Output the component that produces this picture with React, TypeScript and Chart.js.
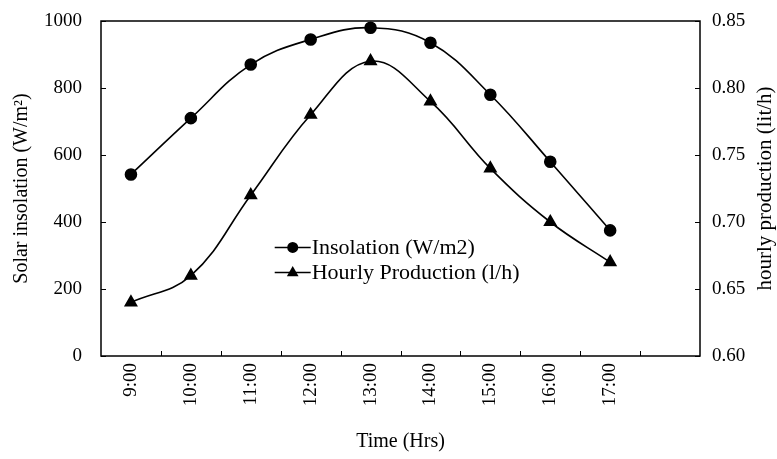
import React, { useEffect, useRef } from 'react';
import { Chart, registerables } from 'chart.js';

Chart.register(...registerables);

const hours = ['9:00', '10:00', '11:00', '12:00', '13:00', '14:00', '15:00', '16:00', '17:00', ''];
const insolation = [542, 710, 870, 945, 980, 935, 780, 580, 375];
const production = [0.64, 0.66, 0.72, 0.78, 0.82, 0.79, 0.74, 0.7, 0.67];
const seriesNames = ['Insolation (W/m2)', 'Hourly Production (l/h)'];
const leftTitle = 'Solar insolation (W/m\u00B2)';
const rightTitle = 'hourly production (lit/h)';
const xTitle = 'Time (Hrs)';

const FONT = "'Liberation Serif', 'Times New Roman', serif";
const TICK = 19;
const TITLE = 20;
const LEGEND = 22;

const framePlugin = {
  id: 'frameTicks',
  afterDraw(chart: any) {
    const { ctx, chartArea } = chart;
    const { left, right, top, bottom } = chartArea;
    ctx.save();
    ctx.strokeStyle = '#000';
    ctx.lineWidth = 1.5;
    ctx.strokeRect(left, top, right - left, bottom - top);
    ctx.lineWidth = 1;
    const tl = 5;
    const yl = chart.scales.y;
    yl.ticks.forEach((_t: any, i: number) => {
      const y = Math.round(yl.getPixelForTick(i)) + 0.5;
      ctx.beginPath();
      ctx.moveTo(left, y);
      ctx.lineTo(left + tl, y);
      ctx.stroke();
    });
    const yr = chart.scales.y1;
    yr.ticks.forEach((_t: any, i: number) => {
      const y = Math.round(yr.getPixelForTick(i)) + 0.5;
      ctx.beginPath();
      ctx.moveTo(right, y);
      ctx.lineTo(right - tl, y);
      ctx.stroke();
    });
    const n = hours.length;
    const w = (right - left) / n;
    for (let i = 1; i < n; i++) {
      const x = Math.round(left + i * w) + 0.5;
      ctx.beginPath();
      ctx.moveTo(x, bottom);
      ctx.lineTo(x, bottom - tl);
      ctx.stroke();
    }

    // right axis title, reading bottom to top
    ctx.save();
    ctx.font = `21px ${FONT}`;
    ctx.fillStyle = '#000';
    ctx.textAlign = 'center';
    ctx.textBaseline = 'middle';
    ctx.translate(yr.right - 12, (top + bottom) / 2);
    ctx.rotate(-Math.PI / 2);
    ctx.fillText(rightTitle, 0, 0);
    ctx.restore();

    // legend
    const lx = left + (right - left) * 0.29;
    const ly0 = top + (bottom - top) * 0.676;
    const gap = 25;
    ctx.font = `${LEGEND}px ${FONT}`;
    ctx.fillStyle = '#000';
    ctx.textBaseline = 'middle';
    ctx.textAlign = 'left';
    seriesNames.forEach((name, i) => {
      const y = ly0 + i * gap;
      ctx.lineWidth = 1.5;
      ctx.beginPath();
      ctx.moveTo(lx, y);
      ctx.lineTo(lx + 36, y);
      ctx.stroke();
      const cx = lx + 18;
      ctx.beginPath();
      if (i === 0) {
        ctx.arc(cx, y, 5.5, 0, Math.PI * 2);
      } else {
        const r = 6.5;
        ctx.moveTo(cx, y - r);
        ctx.lineTo(cx + r * 0.9, y + r * 0.6);
        ctx.lineTo(cx - r * 0.9, y + r * 0.6);
        ctx.closePath();
      }
      ctx.fill();
      ctx.fillText(name, lx + 37, y + 1);
    });
    ctx.restore();
  },
};

export default function App() {
  const ref = useRef<HTMLCanvasElement>(null);
  useEffect(() => {
    document.body.style.margin = '0';
    const chart = new Chart(ref.current!, {
      type: 'line',
      data: {
        labels: hours,
        datasets: [
          {
            label: seriesNames[0],
            data: insolation,
            yAxisID: 'y',
            borderColor: '#000',
            backgroundColor: '#000',
            borderWidth: 1.6,
            pointStyle: 'circle',
            pointRadius: 5.5,
            tension: 0.4,
          },
          {
            label: seriesNames[1],
            data: production,
            yAxisID: 'y1',
            borderColor: '#000',
            backgroundColor: '#000',
            borderWidth: 1.6,
            pointStyle: 'triangle',
            pointRadius: 6.5,
            tension: 0.4,
          },
        ],
      },
      options: {
        responsive: false,
        animation: false,
        devicePixelRatio: 1,
        layout: { autoPadding: false, padding: { top: 21, left: 0, right: 0, bottom: 0 } },
        plugins: { legend: { display: false }, tooltip: { enabled: false } },
        scales: {
          x: {
            offset: true,
            grid: { display: false, drawTicks: false },
            border: { display: false },
            ticks: {
              color: '#000',
              font: { family: FONT, size: TICK },
              minRotation: 90,
              maxRotation: 90,
              padding: 7,
              autoSkip: false,
            },
            title: {
              display: true,
              text: xTitle,
              color: '#000',
              font: { family: FONT, size: TITLE },
              padding: { top: 4, bottom: 5 },
            },
            afterFit(scale: any) {
              scale.height = 103;
              scale.paddingLeft = 0;
              scale.paddingRight = 0;
            },
          },
          y: {
            position: 'left',
            min: 0,
            max: 1000,
            ticks: {
              stepSize: 200,
              color: '#000',
              font: { family: FONT, size: TICK },
              padding: 19,
              callback: (v: any) => String(v),
            },
            grid: { display: false, drawTicks: false },
            border: { display: false },
            title: {
              display: true,
              text: leftTitle,
              color: '#000',
              font: { family: FONT, size: TITLE },
              padding: { top: 10, bottom: 0 },
            },
            afterFit(scale: any) {
              scale.width = 101;
              scale.paddingTop = 0;
              scale.paddingBottom = 0;
            },
          },
          y1: {
            position: 'right',
            min: 0.6,
            max: 0.85,
            ticks: {
              stepSize: 0.05,
              color: '#000',
              font: { family: FONT, size: TICK },
              padding: 12,
              callback: (v: any) => Number(v).toFixed(2),
            },
            grid: { display: false, drawTicks: false },
            border: { display: false },
            title: { display: false },
            afterFit(scale: any) {
              scale.width = 77;
              scale.paddingTop = 0;
              scale.paddingBottom = 0;
            },
          },
        },
      },
      plugins: [framePlugin],
    } as any);
    return () => chart.destroy();
  }, []);
  return (
    <div style={{ width: 777, height: 459, position: 'relative' }}>
      <canvas ref={ref} width={777} height={459} style={{ display: 'block' }} />
    </div>
  );
}
